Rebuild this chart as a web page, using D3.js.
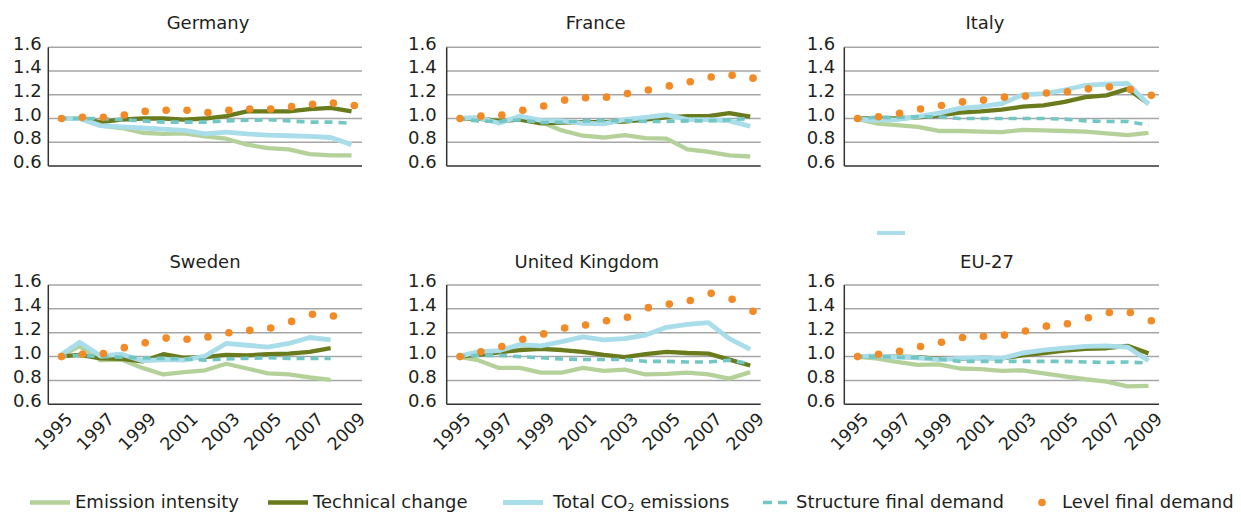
<!DOCTYPE html>
<html><head><meta charset="utf-8">
<script src="https://cdn.jsdelivr.net/npm/d3@7"></script>
<style>
body{margin:0;background:#fff}
svg{display:block}
text{font-family:"DejaVu Sans",Verdana,sans-serif;fill:#231f20}
</style>
</head><body><svg id="chart" width="1241" height="513"></svg>
<script>
// ---------- data ----------
const years = ["1995","1996","1997","1998","1999","2000","2001","2002","2003","2004","2005","2006","2007","2008","2009"];
const tickYears = ["1995","1997","1999","2001","2003","2005","2007","2009"];
const yTicks = [0.6, 0.8, 1.0, 1.2, 1.4, 1.6];
const countries = ["Germany","France","Italy","Sweden","United Kingdom","EU-27"];
const seriesNames = ["Emission intensity","Technical change","Total CO2 emissions","Structure final demand","Level final demand"];

const germanyEmission  = [1.00,1.00,0.94,0.92,0.88,0.87,0.875,0.85,0.83,0.78,0.75,0.74,0.70,0.69,0.69];
const germanyTechnical = [1.00,1.00,0.97,0.99,1.00,1.00,0.99,1.00,1.02,1.06,1.06,1.06,1.08,1.09,1.06];
const germanyTotal     = [1.00,1.00,0.94,0.93,0.92,0.91,0.90,0.87,0.885,0.87,0.86,0.855,0.85,0.84,0.78];
const germanyStructure = [1.00,1.00,1.00,0.99,0.98,0.97,0.97,0.97,0.98,0.985,0.99,0.98,0.97,0.97,0.96];
const germanyLevel     = [1.00,1.01,1.01,1.03,1.06,1.07,1.07,1.05,1.07,1.08,1.08,1.10,1.12,1.13,1.11];

const franceEmission  = [1.00,1.00,0.98,0.99,0.97,0.90,0.855,0.84,0.86,0.835,0.83,0.74,0.72,0.69,0.68];
const franceTechnical = [1.00,1.00,0.98,0.99,0.96,0.965,0.97,0.97,0.975,0.99,1.01,1.02,1.02,1.045,1.015];
const franceTotal     = [1.00,1.01,0.96,1.02,0.985,0.98,0.96,0.955,0.99,1.01,1.03,0.99,0.99,0.98,0.935];
const franceStructure = [1.00,0.98,0.975,0.99,0.965,0.97,0.98,0.985,0.98,0.975,0.975,0.98,0.98,0.99,1.00];
const franceLevel     = [1.00,1.02,1.03,1.07,1.105,1.155,1.175,1.18,1.21,1.24,1.275,1.31,1.35,1.365,1.34];

const italyEmission  = [1.00,0.96,0.945,0.93,0.895,0.895,0.89,0.885,0.905,0.90,0.895,0.89,0.875,0.86,0.88];
const italyTechnical = [1.00,1.00,1.00,1.01,1.025,1.05,1.06,1.075,1.10,1.11,1.14,1.18,1.195,1.25,1.125];
const italyTotal     = [1.00,0.985,0.99,1.015,1.045,1.085,1.10,1.125,1.20,1.21,1.24,1.28,1.29,1.295,1.12];
const italyStructure = [1.00,1.01,1.01,1.015,1.015,1.00,1.00,1.00,1.00,1.00,0.995,0.98,0.975,0.975,0.945];
const italyLevel     = [1.00,1.015,1.045,1.08,1.11,1.14,1.155,1.18,1.19,1.215,1.225,1.25,1.265,1.245,1.195];

const swedenEmission  = [1.00,1.085,0.97,0.975,0.905,0.85,0.87,0.885,0.94,0.90,0.86,0.85,0.825,0.805,null];
const swedenTechnical = [1.00,1.015,0.985,0.98,0.96,1.02,0.99,0.995,1.015,1.01,1.02,1.025,1.04,1.07,null];
const swedenTotal     = [1.00,1.12,1.005,1.02,0.965,0.975,0.97,1.005,1.11,1.095,1.08,1.11,1.16,1.14,null];
const swedenStructure = [1.00,1.01,1.00,0.995,0.99,0.985,0.98,0.97,0.98,0.985,0.99,0.985,0.985,0.985,null];
const swedenLevel     = [1.00,1.02,1.025,1.075,1.115,1.155,1.145,1.165,1.20,1.22,1.24,1.295,1.355,1.34,null];

const ukEmission  = [1.00,0.97,0.905,0.905,0.865,0.865,0.905,0.88,0.89,0.85,0.855,0.865,0.85,0.815,0.87];
const ukTechnical = [1.00,1.015,1.035,1.055,1.065,1.055,1.04,1.015,0.995,1.02,1.04,1.03,1.025,0.975,0.925];
const ukTotal     = [1.00,1.04,1.05,1.10,1.09,1.125,1.165,1.14,1.15,1.18,1.245,1.27,1.285,1.15,1.06];
const ukStructure = [1.00,1.01,1.01,1.00,0.99,0.98,0.975,0.975,0.975,0.96,0.96,0.955,0.955,0.97,0.94];
const ukLevel     = [1.00,1.04,1.085,1.145,1.19,1.24,1.265,1.30,1.33,1.41,1.44,1.47,1.53,1.48,1.38];

const euEmission  = [1.00,0.985,0.955,0.93,0.935,0.90,0.895,0.88,0.885,0.86,0.835,0.81,0.79,0.75,0.755];
const euTechnical = [1.00,1.00,1.00,0.995,0.98,0.98,0.99,0.985,1.01,1.03,1.05,1.065,1.07,1.09,1.027];
const euTotal     = [1.00,1.005,0.995,0.99,0.975,0.985,0.99,0.985,1.03,1.055,1.07,1.085,1.09,1.08,0.965];
const euStructure = [1.00,1.00,0.995,0.99,0.98,0.96,0.96,0.96,0.96,0.96,0.96,0.955,0.95,0.955,0.945];
const euLevel     = [1.00,1.02,1.045,1.085,1.12,1.16,1.17,1.18,1.215,1.255,1.275,1.325,1.37,1.37,1.30];

const dataByCountry = {
  "Germany":        [germanyEmission, germanyTechnical, germanyTotal, germanyStructure, germanyLevel],
  "France":         [franceEmission, franceTechnical, franceTotal, franceStructure, franceLevel],
  "Italy":          [italyEmission, italyTechnical, italyTotal, italyStructure, italyLevel],
  "Sweden":         [swedenEmission, swedenTechnical, swedenTotal, swedenStructure, swedenLevel],
  "United Kingdom": [ukEmission, ukTechnical, ukTotal, ukStructure, ukLevel],
  "EU-27":          [euEmission, euTechnical, euTotal, euStructure, euLevel]
};

// ---------- styles / layout ----------
const colors = ["#b5d19a", "#6a7b1e", "#a8dde9", "#72c7c4", "#f28a25"];
const layout = [
  {x0:48.3,  x1:362,   y0:47.3, y1:166,   tx:208,   ty:28.5,  gap:6.6, xl:false},
  {x0:446.7, x1:760.7, y0:47.3, y1:166,   tx:595.7, ty:28.5,  gap:10,  xl:false},
  {x0:844.3, x1:1159,  y0:47.3, y1:166,   tx:985,   ty:28.5,  gap:9,   xl:false},
  {x0:48.3,  x1:362,   y0:285,  y1:404.3, tx:205,   ty:267.5, gap:6.6, xl:true},
  {x0:446.7, x1:760.7, y0:285,  y1:404.3, tx:586.7, ty:267.5, gap:10,  xl:true},
  {x0:844.3, x1:1159,  y0:285,  y1:404.3, tx:987,   ty:267.5, gap:9,   xl:true}
];
const markerShift = 2.8;

const svg = d3.select("#chart");

countries.forEach((country, ci) => {
  const L = layout[ci];
  const series = dataByCountry[country];
  const x = d3.scaleBand().domain(years).range([L.x0, L.x1]);
  const cx = d => x(d) + x.bandwidth() / 2;
  const y = d3.scaleLinear().domain([0.6, 1.6]).range([L.y1, L.y0]);
  const g = svg.append("g");

  // gridlines
  g.selectAll("line.grid").data(yTicks.filter(t => t > 0.6)).join("line")
    .attr("x1", L.x0).attr("x2", L.x1)
    .attr("y1", d => y(d)).attr("y2", d => y(d))
    .attr("stroke", "#a6a6a6").attr("stroke-width", 1.5);

  // y tick labels
  g.selectAll("text.ytick").data(yTicks).join("text")
    .attr("x", L.x0 - L.gap).attr("y", d => y(d) + 2.2)
    .attr("text-anchor", "end").attr("font-size", 18)
    .text(d => d.toFixed(1));

  // axes lines
  g.append("line").attr("x1", L.x0).attr("x2", L.x0).attr("y1", L.y0).attr("y2", L.y1)
    .attr("stroke", "#333").attr("stroke-width", 1.5);
  g.append("line").attr("x1", L.x0).attr("x2", L.x1).attr("y1", L.y1).attr("y2", L.y1)
    .attr("stroke", "#333").attr("stroke-width", 1.5);

  // x tick labels
  if (L.xl) {
    g.selectAll("text.xtick").data(tickYears).join("text")
      .attr("transform", d => `translate(${cx(d) + 6},${L.y1 + 7}) rotate(-45)`)
      .attr("text-anchor", "end").attr("dy", "0.71em").attr("font-size", 17.5)
      .text(d => d);
  }

  // title
  g.append("text").attr("x", L.tx).attr("y", L.ty).attr("text-anchor", "middle")
    .attr("font-size", 18).text(country);

  // lines
  [0, 1, 2, 3].forEach(si => {
    const pts = years.map((yr, i) => ({yr, v: series[si][i]}));
    const line = d3.line().defined(d => d.v != null).x(d => cx(d.yr)).y(d => y(d.v));
    g.append("path").datum(pts).attr("d", line)
      .attr("fill", "none").attr("stroke", colors[si])
      .attr("stroke-width", si === 3 ? 3.6 : (si === 2 ? 4.8 : 4.3))
      .attr("stroke-dasharray", si === 3 ? "8,6" : null)
      .attr("stroke-linejoin", "round");
  });

  // level dots
  const lv = years.map((yr, i) => ({yr, v: series[4][i]})).filter(d => d.v != null);
  g.selectAll("circle").data(lv).join("circle")
    .attr("cx", d => cx(d.yr) + markerShift).attr("cy", d => y(d.v))
    .attr("r", 3.8).attr("fill", colors[4]);
});

// stray legend fragment present in the original figure
svg.append("line").attr("x1", 877).attr("x2", 905).attr("y1", 233).attr("y2", 233)
  .attr("stroke", colors[2]).attr("stroke-width", 4);

// ---------- legend ----------
const legendY = 502.5;
const legend = svg.append("g");
const legendPos = [
  {sx0:30,  sx1:70,  tx:75},
  {sx0:268, sx1:308, tx:313},
  {sx0:503, sx1:543, tx:553},
  {sx0:763, sx1:787, tx:796},
  {sx0:1042, sx1:1042, tx:1062}
];
seriesNames.forEach((name, i) => {
  const P = legendPos[i];
  if (i < 3) {
    legend.append("line").attr("x1", P.sx0).attr("x2", P.sx1).attr("y1", legendY).attr("y2", legendY)
      .attr("stroke", colors[i]).attr("stroke-width", i === 2 ? 4.8 : 4.3);
  } else if (i === 3) {
    legend.append("line").attr("x1", P.sx0).attr("x2", P.sx1).attr("y1", legendY).attr("y2", legendY)
      .attr("stroke", colors[i]).attr("stroke-width", 3.6).attr("stroke-dasharray", "9,6");
  } else {
    legend.append("circle").attr("cx", P.sx0).attr("cy", legendY).attr("r", 3.8).attr("fill", colors[i]);
  }
  const t = legend.append("text").attr("x", P.tx).attr("y", legendY + 5).attr("font-size", 18);
  if (name === "Total CO2 emissions") {
    t.append("tspan").text("Total CO");
    t.append("tspan").attr("font-size", 11).attr("dy", 3).text("2");
    t.append("tspan").attr("dy", -3).text(" emissions");
  } else {
    t.text(name);
  }
});
</script>
</body></html>
